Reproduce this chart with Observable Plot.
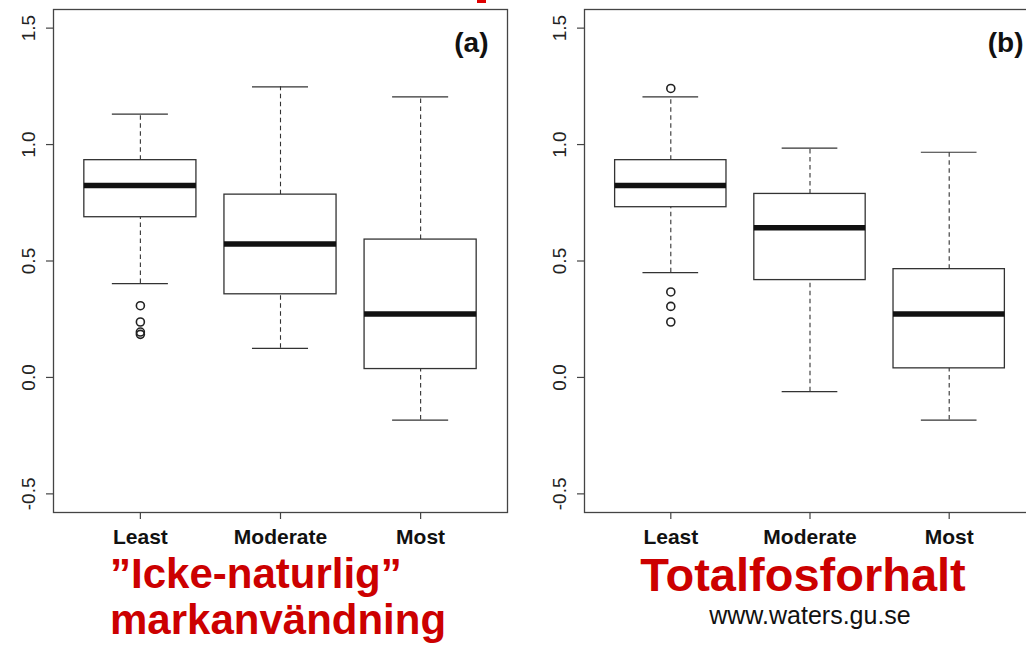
<!DOCTYPE html>
<html>
<head>
<meta charset="utf-8">
<script src="https://cdn.jsdelivr.net/npm/d3@7"></script>
<script src="https://cdn.jsdelivr.net/npm/@observablehq/plot@0.6"></script>
<style>
  html, body { margin: 0; padding: 0; background: #fff; overflow: hidden; }
  #wrap { position: relative; width: 1026px; height: 645px; overflow: hidden; font-family: "Liberation Sans", Arial, Helvetica, sans-serif; }
  .panel { position: absolute; top: 0; width: 520px; height: 555px; }
  .panel svg { max-width: none !important; }
  .cap { position: absolute; white-space: nowrap; font-family: "Liberation Sans", Arial, Helvetica, sans-serif; }
  .red { color: #cc0000; font-weight: bold; }
</style>
</head>
<body>
<div id="wrap">
  <div id="pa" class="panel" style="left:0px"></div>
  <div id="pb" class="panel" style="left:520px"></div>
  <div style="position:absolute;left:477px;top:0px;width:9px;height:3px;background:#e00000"></div>
  <div class="cap red" style="left:110px;top:556.5px;font-size:42px;line-height:34px">”Icke-naturlig”</div>
  <div class="cap red" style="left:110px;top:602.5px;font-size:42px;line-height:34px">markanvändning</div>
  <div class="cap red" style="left:803px;top:556.75px;font-size:47px;line-height:36px;transform:translateX(-50%)">Totalfosforhalt</div>
  <div class="cap" style="left:810px;top:604.35px;font-size:25px;line-height:22px;color:#111;transform:translateX(-50%)">www.waters.gu.se</div>
</div>
<script>
// Categories and tick labels
const categories = ["Least", "Moderate", "Most"];
const yTicks = [-0.5, 0.0, 0.5, 1.0, 1.5];

// Panel (a): "Icke-naturlig" markanvändning
const aLowerWhisker = [0.403, 0.125, -0.183];
const aQ1 = [0.688, 0.357, 0.036];
const aMedian = [0.824, 0.573, 0.272];
const aQ3 = [0.933, 0.785, 0.592];
const aUpperWhisker = [1.131, 1.248, 1.205];
const aOutliers = [[0.308, 0.238, 0.195, 0.185], [], []];

// Panel (b): Totalfosforhalt
const bLowerWhisker = [0.450, -0.061, -0.183];
const bQ1 = [0.731, 0.418, 0.039];
const bMedian = [0.824, 0.643, 0.272];
const bQ3 = [0.933, 0.788, 0.465];
const bUpperWhisker = [1.205, 0.985, 0.967];
const bOutliers = [[1.241, 0.367, 0.305, 0.238], [], []];

const font = '"Liberation Sans", Arial, Helvetica, sans-serif';

function buildStats(lo, q1, med, q3, hi) {
  return categories.map((c, i) => ({ cat: c, pos: i + 1, lo: lo[i], q1: q1[i], med: med[i], q3: q3[i], hi: hi[i] }));
}
function buildOutliers(out) {
  const rows = [];
  out.forEach((vals, i) => vals.forEach(v => rows.push({ cat: categories[i], pos: i + 1, value: v })));
  return rows;
}

function panel(stats, outliers, label, opts) {
  const halfBox = 0.4, halfCap = 0.2;
  return Plot.plot({
    width: opts.width,
    height: 555,
    marginLeft: opts.marginLeft,
    marginRight: opts.marginRight,
    marginTop: 9,
    marginBottom: 43,
    style: { fontFamily: font, background: "transparent", overflow: "visible", maxWidth: "none" },
    x: { type: "linear", domain: [0.38, 3.62], axis: null, label: null },
    y: { type: "linear", domain: [-0.58, 1.58], axis: null, label: null },
    marks: [
      // whiskers (dashed)
      Plot.ruleX(stats, { x: "pos", y1: "q3", y2: "hi", stroke: "#333", strokeWidth: 1.1, strokeDasharray: "4.5,3.5" }),
      Plot.ruleX(stats, { x: "pos", y1: "lo", y2: "q1", stroke: "#333", strokeWidth: 1.1, strokeDasharray: "4.5,3.5" }),
      // whisker caps
      Plot.ruleY(stats, { y: "hi", x1: d => d.pos - halfCap, x2: d => d.pos + halfCap, stroke: "#333", strokeWidth: 1.2 }),
      Plot.ruleY(stats, { y: "lo", x1: d => d.pos - halfCap, x2: d => d.pos + halfCap, stroke: "#333", strokeWidth: 1.2 }),
      // boxes
      Plot.rect(stats, { x1: d => d.pos - halfBox, x2: d => d.pos + halfBox, y1: "q1", y2: "q3", fill: "white", stroke: "#333", strokeWidth: 1.3 }),
      // medians
      Plot.ruleY(stats, { y: "med", x1: d => d.pos - halfBox, x2: d => d.pos + halfBox, stroke: "#111", strokeWidth: 5.5 }),
      // outliers
      Plot.dot(outliers, { x: "pos", y: "value", r: 4, stroke: "#222", strokeWidth: 1.6, fill: "none" }),
      // frame
      Plot.frame({ stroke: "#444", strokeWidth: 1.3 }),
      // y axis ticks
      Plot.axisY({ ticks: yTicks, tickSize: 7, tickFormat: () => "", label: null, stroke: "#444", strokeWidth: 1.2 }),
      Plot.text(yTicks, { y: d => d, text: d => d.toFixed(1), frameAnchor: "left", dx: -25, rotate: -90, textAnchor: "middle", lineAnchor: "middle", fontSize: 19, fill: "#222" }),
      // x axis ticks and labels
      Plot.axisX({ ticks: [1, 2, 3], tickSize: 7, tickPadding: 10, label: null, tickFormat: i => categories[i - 1], fontSize: 21, fontWeight: "bold", fill: "#111", stroke: "#444", strokeWidth: 1.2 }),
      // panel label
      Plot.text([label], { text: d => d, frameAnchor: "top-right", dx: opts.labelDx, dy: 33.5, textAnchor: "end", lineAnchor: "middle", fontSize: 28, fontWeight: "bold", fill: "#111" })
    ]
  });
}

document.getElementById("pa").appendChild(
  panel(buildStats(aLowerWhisker, aQ1, aMedian, aQ3, aUpperWhisker), buildOutliers(aOutliers), "(a)",
    { width: 517, marginLeft: 53, marginRight: 10, labelDx: -19 })
);
document.getElementById("pb").appendChild(
  panel(buildStats(bLowerWhisker, bQ1, bMedian, bQ3, bUpperWhisker), buildOutliers(bOutliers), "(b)",
    { width: 515, marginLeft: 64, marginRight: 0, labelDx: -12 })
);
</script>
</body>
</html>
